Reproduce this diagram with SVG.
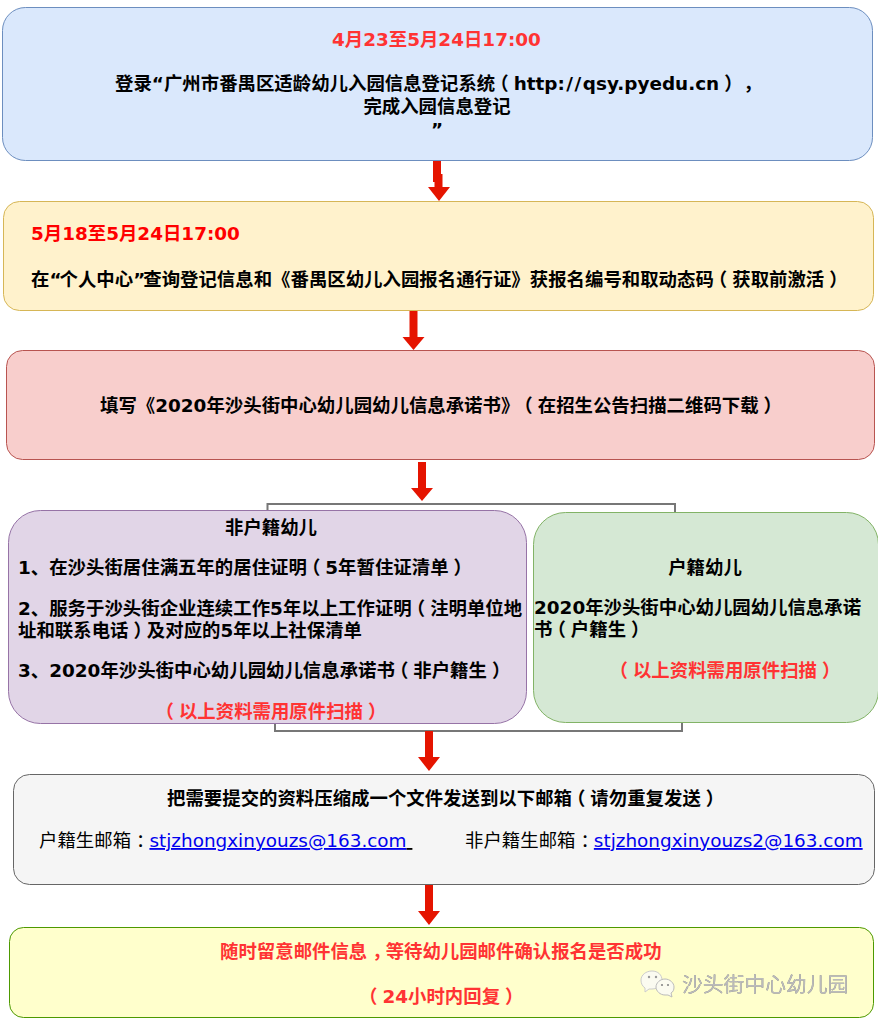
<svg xmlns="http://www.w3.org/2000/svg" width="878" height="1023" viewBox="0 0 878 1023">
<style>
text{font-family:"DejaVu Sans","Noto Sans CJK SC",sans-serif;font-size:18.400px;fill:#000;text-spacing-trim:space-all}
.b{font-weight:bold}
.c{text-anchor:middle}
.r{fill:#ff3333}
.rr{fill:#ff0000}
.a{fill:#0000ee;text-decoration:underline}
.u{text-decoration:underline}
.box{stroke-width:1}
.conn{fill:none;stroke:#e51400;stroke-width:8}
.head{fill:#e51400}
.br{fill:none;stroke:#777;stroke-width:2}
.wm{font-size:20.800px;fill:#bbb;filter:drop-shadow(.7px .7px 0 #777)}
</style>
<g id="connectors">
<path class="conn" d="M437,160V178H438.500V188"/><path class="head" d="M428,187H450L439,201z"/>
<path class="conn" d="M413.500,310V338"/><path class="head" d="M402.500,337H424.500L413.500,350z"/>
<path class="conn" d="M422,462V489"/><path class="head" d="M411,488H433L422,501z"/>
<path class="br" d="M267.500,511V504H675V513"/>
<path class="br" d="M275,723V731H682V723"/>
<path class="conn" d="M429,731V758"/><path class="head" d="M418,757H440L429,771z"/>
<path class="conn" d="M429,885V912"/><path class="head" d="M418,911H440L429,925z"/>
</g>
<g id="node1"><rect class="box" x="2.500" y="7.500" width="870" height="153" rx="23" fill="#dae8fc" stroke="#6c8ebf"/>
<text class="b r" x="332" y="46">4月23至5月24日17:00</text>
<text class="b" x="115" y="90" dx="0 0 0 0 0 0 0 0 0 0 0 0 0 0 0 0 0 0 0 0 0 -5 5 0 0 0 0 1.500 1.500 1.500 0 0 0 0 0 0 0 0 0 0 0 5 1">登录“广州市番禺区适龄幼儿入园信息登记系统（http://qsy.pyedu.cn），</text>
<text class="b c" x="437" y="113">完成入园信息登记</text>
<text class="b c" x="437" y="136">”</text></g>
<g id="node2"><rect class="box" x="3.500" y="201.500" width="870" height="109" rx="16" fill="#fff2cc" stroke="#d6b656"/>
<text class="b rr" x="31" y="240">5月18至5月24日17:00</text>
<text class="b" x="31" y="286" dx="0 0 -2 0 0 0 0 -2 0 0 0 0 0 0 0 0 0 0 0 0 0 0 0 0 0 0 0 0 0 0 0 0 0 0 0 0 0 0 -5 5 0 0 0 0 5">在“个人中心”查询登记信息和《番禺区幼儿入园报名通行证》获报名编号和取动态码（获取前激活）</text></g>
<g id="node3"><rect class="box" x="6.500" y="350.500" width="868" height="109" rx="16" fill="#f8cecc" stroke="#b85450"/>
<text class="b" x="100" y="412" dx="0 0 0 0 0 0 0 0 0 0 0 0 0 0 0 0 0 0 0 0 0 0 0 0 -5 5 0 0 0 0 0 0 0 0 0 0 0 5">填写《2020年沙头街中心幼儿园幼儿信息承诺书》（在招生公告扫描二维码下载）</text></g>
<g id="node4"><rect class="box" x="8.500" y="510.500" width="518" height="213" rx="32" fill="#e1d5e7" stroke="#9673a6"/>
<text class="b c" x="271" y="534">非户籍幼儿</text>
<text class="b" x="18" y="574" dx="0 0 0 0 0 0 0 0 0 0 0 0 0 0 0 0 -5 5 0 0 0 0 0 0 5">1、在沙头街居住满五年的居住证明（5年暂住证清单）</text>
<text class="b" x="18" y="615" dx="0 0 0 0 0 0 0 0 0 0 0 0 0 0 0 0 0 0 0 0 0 0 -5 5">2、服务于沙头街企业连续工作5年以上工作证明（注明单位地</text>
<text class="b" x="18" y="637" dx="0 0 0 0 0 0 5 -5">址和联系电话）及对应的5年以上社保清单</text>
<text class="b" x="18" y="677" dx="0 0 0 0 0 0 0 0 0 0 0 0 0 0 0 0 0 0 0 0 0 0 -5 5 0 0 0 5">3、2020年沙头街中心幼儿园幼儿信息承诺书（非户籍生）</text>
<text class="b r" x="160.500" y="718" dx="-5 5 0 0 0 0 0 0 0 0 0 5">（以上资料需用原件扫描）</text></g>
<g id="node5"><rect class="box" x="533.500" y="512.500" width="345" height="210" rx="32" fill="#d5e8d4" stroke="#82b366"/>
<text class="b c" x="705" y="574">户籍幼儿</text>
<text class="b" x="534" y="614">2020年沙头街中心幼儿园幼儿信息承诺</text>
<text class="b" x="534" y="636" dx="0 -5 5 0 0 5">书（户籍生）</text>
<text class="b r" x="614.500" y="677" dx="-5 5 0 0 0 0 0 0 0 0 0 5">（以上资料需用原件扫描）</text></g>
<g id="node6"><rect class="box" x="13.500" y="774.500" width="861" height="110" rx="16" fill="#f5f5f5" stroke="#666"/>
<text class="b" x="167" y="805" dx="0 0 0 0 0 0 0 0 0 0 0 0 0 0 0 0 0 0 0 0 0 0 -5 5 0 0 0 0 0 5">把需要提交的资料压缩成一个文件发送到以下邮箱（请勿重复发送）</text>
<text x="39" y="847" dx="0 0 0 0 0 5 -5">户籍生邮箱：<tspan class="a">stjzhongxinyouzs@163.com</tspan><tspan class="u">&#160;</tspan></text>
<text x="465" y="847" dx="0 0 0 0 0 0 5 -5">非户籍生邮箱：<tspan class="a">stjzhongxinyouzs2@163.com</tspan></text></g>
<g id="node7"><rect class="box" x="9.500" y="927.500" width="864" height="90" rx="14" fill="#ffffcc" stroke="#4d9900"/>
<text class="b r" x="220" y="958" dx="0 0 0 0 0 0 0 0 5 -5">随时留意邮件信息，等待幼儿园邮件确认报名是否成功</text>
<text class="b r" x="364" y="1003" dx="-5 5 0 0 0 0 0 0 5">（24小时内回复）</text></g>
<g id="watermark"><text class="wm" x="682" y="992">沙头街中心幼儿园</text>
<path d="M652,971c6,0 10,4 10,9c0,5 -4,9 -10,9c-1,0 -2,0 -3,0l-4,3l0,-4c-3,-2 -4,-5 -4,-8c0,-5 5,-9 11,-9z" fill="#fbfbf0" stroke="#ccc"/>
<path d="M665,979c5,0 9,4 9,8c0,3 -1,5 -3,6l1,4l-4,-2c-1,0 -2,0 -3,0c-5,0 -9,-4 -9,-8c0,-4 4,-8 9,-8z" fill="#fbfbf0" stroke="#bbb"/>
<circle cx="649" cy="977" r="1.200" fill="#999"/><circle cx="656" cy="977" r="1.200" fill="#999"/><circle cx="662" cy="985" r="1.100" fill="#888"/><circle cx="668" cy="985" r="1.100" fill="#888"/></g>
</svg>
